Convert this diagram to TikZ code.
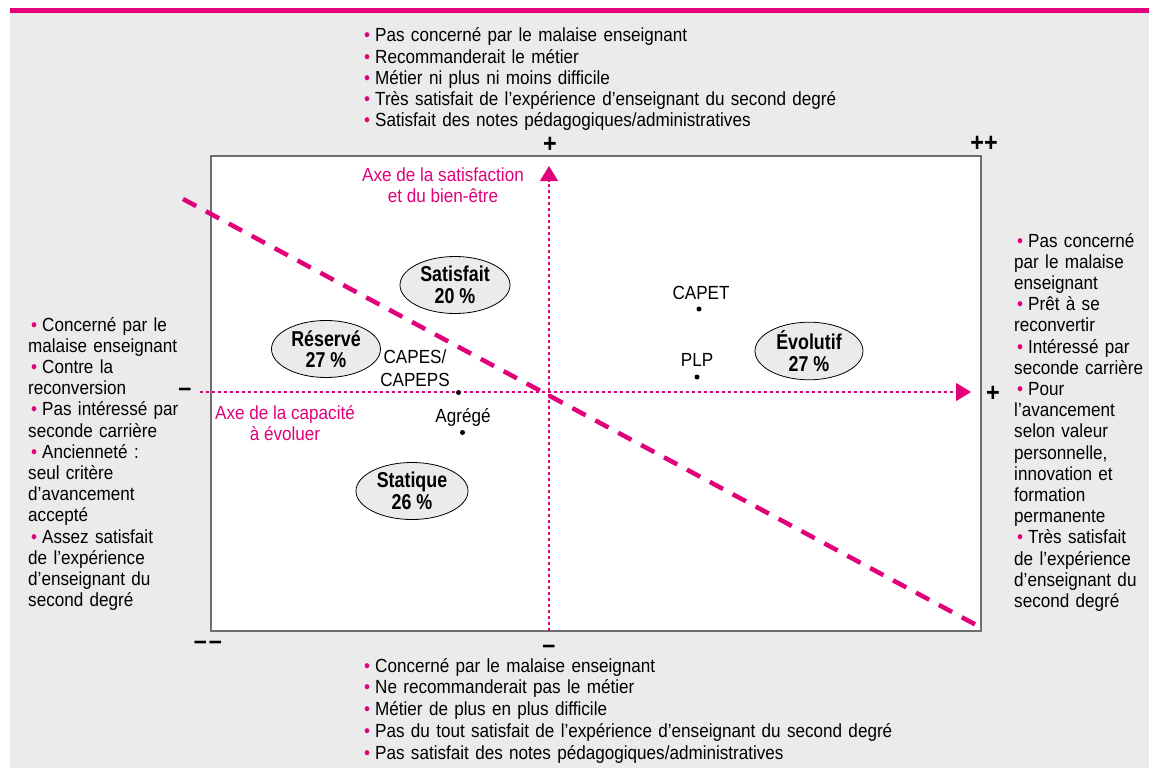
\documentclass[tikz,border=0pt]{standalone}
\usepackage{fontspec}
\setmainfont{Liberation Sans}[FakeStretch=0.9]
\newfontfamily\labfont{Liberation Sans}[FakeStretch=0.83]
\usetikzlibrary{arrows.meta,shapes.geometric}
\definecolor{mag}{HTML}{E2007A}
\definecolor{bg}{HTML}{EBEBEB}
\definecolor{framec}{HTML}{6E6E6E}
\newcommand{\bul}{\hspace{3pt}{\color{mag}•}\hspace{5pt}}
\begin{document}
\begin{tikzpicture}[x=1pt,y=-1pt,
  col/.style={font=\fontsize{19}{21.2}\selectfont, inner sep=0pt, text width=#1, align=left, anchor=base west},
  botcol/.style={font=\fontsize{19}{21.75}\selectfont, inner sep=0pt, text width=#1, align=left, anchor=base west},
  axlabel/.style={font=\fontsize{19}{21.5}\selectfont, text=mag, inner sep=0pt, align=center},
  lbl/.style={font=\fontsize{19}{23}\selectfont, inner sep=0pt, align=center},
  group/.style={ellipse, draw=black, line width=0.8pt, fill=bg, inner sep=0pt, minimum width=#1, minimum height=57pt, align=center, font=\labfont\fontsize{21.5}{21.5}\selectfont\bfseries},
  dot/.style={circle, fill=black, inner sep=0pt, minimum size=5pt},
  sign/.style={font=\fontsize{26}{26}\selectfont\bfseries, inner sep=0pt},
  axis/.style={draw=mag, line width=1.2pt, dash pattern=on 3pt off 3pt, -{Triangle[length=15pt,width=18pt]}},
  divide/.style={draw=mag, line width=4.5pt, dash pattern=on 15pt off 11pt}
]
\useasboundingbox (0,0) rectangle (1149,768);
% background and top bar
\fill[bg] (9.5,13.5) rectangle (1149,768);
\fill[mag] (9.5,8) rectangle (1149,13.5);
% frame
\draw[framec, line width=1.5pt, fill=white] (211,156) rectangle (981,631);
% axes
\coordinate (vbot) at (549,631);
\coordinate (vtop) at (549,166);
\coordinate (hl) at (200,392);
\coordinate (hr) at (971,392);
\draw[axis] (vbot) -- (vtop);
\draw[axis] (hl) -- (hr);
% dividing line
\coordinate (d1) at (183,199);
\coordinate (d2) at (980,627);
\draw[divide] (d1) -- (d2);
% axis labels
\node[axlabel] (ysat) at (443,185) {Axe de la satisfaction\\et du bien-être};
\node[axlabel] (xcap) at (285,423) {Axe de la capacité\\à évoluer};
% signs
\node[sign] (ptop) at (550,145) {+};
\node[sign] (pp) at (984,144) {++};
\node[sign] (pright) at (993,394) {+};
\node[sign] (mleft) at (185,392) {–};
\node[sign] (mbot) at (549,649) {–};
\node[sign] (mm) at (208,645) {–\hspace{2pt}–};
% groups
\node[group=110pt] (satisfait) at (455,285) {Satisfait\\20~\%};
\node[group=109pt] (reserve) at (326,349) {Réservé\\27~\%};
\node[group=112pt] (statique) at (412,491) {Statique\\26~\%};
\node[group=108pt] (evolutif) at (809,351) {Évolutif\\27~\%};
% corps
\node[lbl] (capes) at (415,368) {CAPES/\\CAPEPS};
\node[dot] (dcapes) at (458.5,392.5) {};
\node[lbl] (agrege) at (463,417) {Agrégé};
\node[dot] (dagrege) at (462.5,432.5) {};
\node[lbl] (capet) at (701,293) {CAPET};
\node[dot] (dcapet) at (699,309) {};
\node[lbl] (plp) at (697,360) {PLP};
\node[dot] (dplp) at (697,377) {};
% lists
\node[col=600pt] (toplist) at (361,42) {\bul Pas concerné par le malaise enseignant\\
\bul Recommanderait le métier\\
\bul Métier ni plus ni moins difficile\\
\bul Très satisfait de l’expérience d’enseignant du second degré\\
\bul Satisfait des notes pédagogiques/administratives};
\node[botcol=560pt] (botlist) at (361,672) {\bul Concerné par le malaise enseignant\\
\bul Ne recommanderait pas le métier\\
\bul Métier de plus en plus difficile\\
\bul Pas du tout satisfait de l’expérience d’enseignant du second degré\\
\bul Pas satisfait des notes pédagogiques/administratives};
\node[col=160pt] (leftlist) at (28,331) {\bul Concerné par le\\
malaise enseignant\\
\bul Contre la\\
reconversion\\
\bul Pas intéressé par\\
seconde carrière\\
\bul Ancienneté :\\
seul critère\\
d’avancement\\
accepté\\
\bul Assez satisfait\\
de l’expérience\\
d’enseignant du\\
second degré};
\node[col=134pt] (rightlist) at (1014,247) {\bul Pas concerné\\
par le malaise\\
enseignant\\
\bul Prêt à se\\
reconvertir\\
\bul Intéressé par\\
seconde carrière\\
\bul Pour\\
l’avancement\\
selon valeur\\
personnelle,\\
innovation et\\
formation\\
permanente\\
\bul Très satisfait\\
de l’expérience\\
d’enseignant du\\
second degré};
\end{tikzpicture}
\end{document}
